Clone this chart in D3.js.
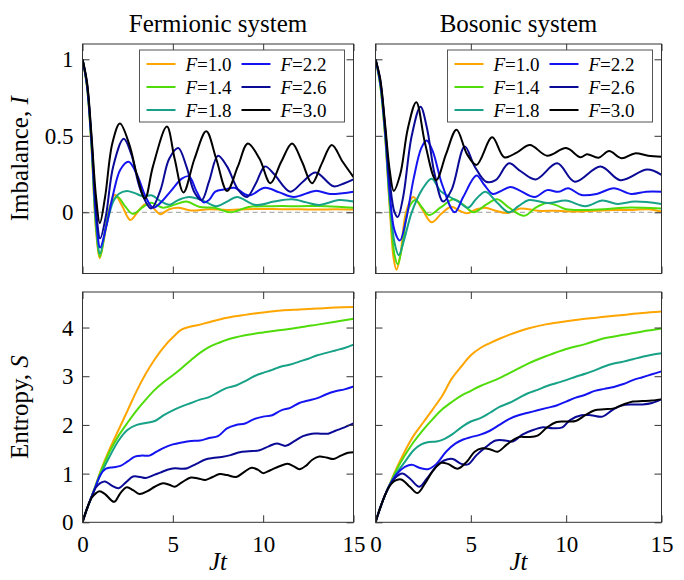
<!DOCTYPE html>
<html><head><meta charset="utf-8">
<script src="https://cdn.jsdelivr.net/npm/d3@7"></script>
<style>
body{margin:0;background:#fff}
svg{display:block}
text{font-family:"Liberation Serif","Times New Roman",serif;fill:#000}
</style>
</head><body>
<svg id="chart" width="684" height="580"></svg>
<script>
// ---------- data ----------
const fValues = ["1.0","1.4","1.8","2.2","2.6","3.0"];
const seriesColors = ["#ffa500","#4fdc0a","#17a187","#1414f0","#0a0a96","#000000"];
const xTicks = [0,5,10,15];
const imbTicks = [0,0.5,1];
const imbTickLabels = ["0","0.5","1"];
const entTicks = [0,1,2,3,4];
const entTickLabels = ["0","1","2","3","4"];
const panelTitles = ["Fermionic system","Bosonic system"];

// Fermionic imbalance  [Jt, I]
const fermiImb10 = [[0,1],[0.25,0.82],[0.5,0.42],[0.75,-0.12],[0.95,-0.3],[1.2,-0.17],[1.5,0.03],[1.8,0.115],[2.2,0.04],[2.65,-0.05],[3.1,0.01],[3.5,0.055],[3.9,0.03],[4.3,-0.012],[4.8,0.02],[5.3,0.03],[6.0,0.012],[7,0.02],[8,0.015],[9,0.02],[10,0.022],[11,0.02],[12,0.02],[13,0.018],[14,0.02],[15,0.018]];
const fermiImb14 = [[0,1],[0.25,0.82],[0.5,0.43],[0.75,-0.1],[0.97,-0.29],[1.25,-0.12],[1.6,0.06],[1.95,0.1],[2.35,0.04],[2.78,-0.01],[3.3,0.03],[3.8,0.063],[4.45,0.03],[5.1,0.05],[5.75,0.07],[6.5,0.035],[7.3,0.03],[8.2,0.0],[9.2,0.035],[10.5,0.04],[12,0.04],[13.5,0.04],[15,0.03]];
const fermiImb18 = [[0,1],[0.25,0.83],[0.5,0.45],[0.75,-0.07],[0.97,-0.27],[1.3,-0.1],[1.7,0.07],[2.0,0.12],[2.45,0.14],[2.9,0.125],[3.35,0.105],[3.85,0.11],[4.3,0.075],[4.8,0.05],[5.3,0.08],[5.9,0.1],[6.7,0.075],[7.4,0.04],[8.0,0.07],[8.55,0.1],[9.6,0.048],[10.6,0.07],[11.6,0.085],[12.4,0.065],[13.1,0.048],[14.2,0.08],[15,0.07]];
const fermiImb22 = [[0,1],[0.25,0.83],[0.5,0.46],[0.75,-0.03],[0.98,-0.23],[1.3,-0.1],[1.7,0.12],[2.1,0.28],[2.55,0.33],[3.0,0.25],[3.5,0.1],[3.9,0.03],[4.3,0.06],[4.9,0.14],[5.5,0.22],[5.9,0.235],[6.3,0.14],[6.7,0.065],[7.0,0.08],[7.35,0.135],[7.9,0.15],[8.4,0.16],[9.2,0.11],[10.1,0.16],[10.9,0.13],[11.7,0.1],[12.9,0.14],[13.7,0.12],[14.4,0.125],[15,0.135]];
const fermiImb26 = [[0,1],[0.25,0.84],[0.5,0.48],[0.75,0.02],[0.98,-0.17],[1.3,-0.02],[1.7,0.3],[2.28,0.48],[2.7,0.38],[3.2,0.15],[3.8,0.025],[4.3,0.14],[4.8,0.35],[5.3,0.42],[5.75,0.3],[6.2,0.13],[6.6,0.08],[7.0,0.2],[7.5,0.37],[8.0,0.3],[8.6,0.15],[9.1,0.1],[9.6,0.19],[10.1,0.3],[10.6,0.25],[11.5,0.135],[12.2,0.2],[12.9,0.26],[13.9,0.17],[14.5,0.19],[15,0.215]];
const fermiImb30 = [[0,1],[0.25,0.85],[0.5,0.5],[0.75,0.1],[0.96,-0.07],[1.25,0.1],[1.65,0.45],[2.07,0.58],[2.6,0.44],[3.0,0.25],[3.46,0.09],[3.9,0.3],[4.67,0.56],[5.1,0.35],[5.59,0.13],[6.2,0.35],[6.85,0.53],[7.4,0.35],[8.0,0.14],[8.6,0.3],[9.15,0.45],[9.8,0.35],[10.4,0.19],[11.0,0.33],[11.6,0.45],[12.15,0.33],[12.7,0.19],[13.25,0.32],[13.8,0.44],[14.4,0.33],[15,0.23]];

// Bosonic imbalance  [Jt, I]
const boseImb10 = [[0,1],[0.25,0.83],[0.5,0.5],[0.75,0.02],[0.95,-0.3],[1.1,-0.375],[1.3,-0.28],[1.6,0.0],[1.98,0.1],[2.45,0.02],[2.94,-0.065],[3.45,-0.01],[3.97,0.037],[4.4,0.01],[4.8,-0.007],[5.3,0.02],[5.77,0.03],[6.3,0.01],[6.9,-0.005],[7.6,0.025],[8.5,0.01],[9.5,0.01],[10.5,0.005],[11.5,0.01],[12.5,0.015],[13.5,0.015],[14.3,0.02],[15,0.005]];
const boseImb14 = [[0,1],[0.25,0.83],[0.5,0.51],[0.75,0.05],[1.0,-0.28],[1.17,-0.34],[1.4,-0.22],[1.75,0.03],[2.1,0.08],[2.45,0.03],[2.8,-0.018],[3.4,0.03],[4.1,0.085],[4.6,0.05],[5.15,0.0],[5.8,0.05],[6.38,0.085],[7.0,0.03],[7.8,-0.023],[8.4,0.03],[9.0,0.06],[9.5,0.045],[10,0.02],[11,0.015],[12,0.02],[13,0.03],[14,0.03],[15,0.025]];
const boseImb18 = [[0,1],[0.25,0.84],[0.5,0.52],[0.75,0.08],[1.0,-0.2],[1.22,-0.28],[1.5,-0.18],[1.9,0.0],[2.45,0.15],[2.95,0.22],[3.4,0.14],[3.9,0.1],[4.35,0.07],[4.85,0.03],[5.3,0.09],[5.77,0.135],[6.4,0.06],[7.0,0.0],[7.5,0.04],[8.05,0.08],[9.1,0.06],[9.98,0.077],[11.0,0.04],[11.9,0.077],[12.7,0.055],[13.6,0.07],[15,0.055]];
const boseImb22 = [[0,1],[0.25,0.85],[0.5,0.54],[0.75,0.12],[1.0,-0.12],[1.28,-0.185],[1.6,-0.05],[2.0,0.22],[2.4,0.42],[2.68,0.47],[3.0,0.4],[3.5,0.18],[4.15,0.0],[4.6,0.1],[5.3,0.24],[5.7,0.18],[6.15,0.12],[6.6,0.14],[7.08,0.166],[7.6,0.14],[8.35,0.1],[9.0,0.145],[9.6,0.134],[10.1,0.157],[10.8,0.113],[11.6,0.12],[12.5,0.157],[13.4,0.12],[14.2,0.135],[15,0.135]];
const boseImb26 = [[0,1],[0.25,0.86],[0.5,0.56],[0.75,0.2],[1.0,0.0],[1.17,-0.03],[1.45,0.1],[1.9,0.5],[2.36,0.69],[2.7,0.55],[3.1,0.25],[3.55,0.07],[4.0,0.15],[4.68,0.43],[5.2,0.3],[5.8,0.2],[6.3,0.21],[7.0,0.32],[7.6,0.27],[8.4,0.215],[9.53,0.32],[10.45,0.2],[11.8,0.3],[12.85,0.21],[14.25,0.28],[15,0.245]];
const boseImb30 = [[0,1],[0.25,0.87],[0.5,0.58],[0.75,0.27],[0.96,0.14],[1.3,0.25],[1.7,0.55],[2.14,0.72],[2.6,0.45],[3.18,0.21],[3.7,0.38],[4.25,0.54],[4.8,0.38],[5.3,0.31],[6.12,0.49],[6.75,0.36],[7.4,0.39],[8.1,0.44],[9.0,0.37],[10.0,0.42],[10.75,0.36],[11.1,0.38],[11.7,0.357],[12.25,0.40],[12.9,0.353],[13.6,0.385],[14.3,0.37],[15,0.363]];

// Fermionic entropy  [Jt, S]
const fermiEnt10 = [[0,0],[0.25,0.28],[0.5,0.52],[0.75,0.78],[1,1.05],[1.5,1.5],[2,1.9],[2.5,2.3],[3,2.7],[3.5,3.05],[4,3.35],[4.5,3.6],[5,3.8],[5.5,3.96],[6,4.02],[6.5,4.06],[7,4.11],[8,4.2],[9,4.26],[10,4.31],[11,4.35],[12,4.37],[13,4.39],[14,4.41],[15,4.42]];
const fermiEnt14 = [[0,0],[0.25,0.28],[0.5,0.52],[0.75,0.78],[1,1.03],[1.5,1.45],[2,1.78],[2.5,2.05],[3,2.3],[3.5,2.52],[4,2.72],[4.5,2.88],[5,3.02],[5.5,3.17],[6,3.33],[6.5,3.48],[7,3.6],[7.5,3.68],[8,3.75],[9,3.84],[10,3.9],[11,3.95],[12,4.0],[13,4.06],[14,4.12],[15,4.18]];
const fermiEnt18 = [[0,0],[0.25,0.28],[0.5,0.52],[0.75,0.76],[1,0.98],[1.5,1.35],[2,1.68],[2.5,1.9],[3,2.0],[3.5,2.04],[4,2.08],[4.5,2.2],[5,2.3],[5.5,2.38],[6,2.45],[6.5,2.52],[7,2.57],[7.5,2.67],[8,2.76],[8.5,2.81],[9,2.9],[9.5,3.0],[10,3.07],[10.5,3.13],[11,3.2],[11.5,3.24],[12,3.3],[12.5,3.36],[13,3.43],[13.5,3.48],[14,3.53],[14.5,3.58],[15,3.65]];
const fermiEnt22 = [[0,0],[0.25,0.28],[0.5,0.52],[0.75,0.76],[1,0.98],[1.3,1.1],[1.7,1.13],[2.1,1.16],[2.5,1.25],[2.9,1.35],[3.3,1.37],[3.7,1.37],[4.1,1.45],[4.5,1.53],[5,1.6],[5.5,1.64],[6,1.67],[6.5,1.68],[7,1.73],[7.5,1.77],[8,1.93],[8.5,2.0],[9,2.03],[9.5,2.12],[10,2.17],[10.5,2.2],[11,2.3],[11.5,2.35],[12,2.45],[12.5,2.5],[13,2.55],[13.5,2.63],[14,2.69],[14.5,2.73],[15,2.79]];
const fermiEnt26 = [[0,0],[0.25,0.28],[0.5,0.52],[0.75,0.72],[1.0,0.81],[1.25,0.84],[1.6,0.76],[2.0,0.7],[2.4,0.82],[2.8,0.94],[3.2,0.93],[3.5,0.91],[4.0,0.98],[4.3,1.02],[4.7,1.08],[5.1,1.11],[5.5,1.1],[5.8,1.11],[6.3,1.2],[6.8,1.29],[7.2,1.32],[7.7,1.34],[8.2,1.38],[8.7,1.44],[9.2,1.46],[9.8,1.48],[10.3,1.56],[10.75,1.62],[11.25,1.57],[11.7,1.66],[12.2,1.77],[12.7,1.82],[13.2,1.82],[13.6,1.82],[14.0,1.88],[14.5,1.95],[15,2.03]];
const fermiEnt30 = [[0,0],[0.25,0.28],[0.5,0.5],[0.75,0.6],[0.95,0.64],[1.25,0.58],[1.75,0.42],[2.1,0.6],[2.45,0.72],[2.8,0.66],[3.15,0.58],[3.6,0.64],[4.0,0.73],[4.45,0.8],[4.8,0.77],[5.1,0.73],[5.5,0.82],[6.0,0.92],[6.4,0.9],[6.8,0.87],[7.2,0.93],[7.6,0.99],[8.0,0.97],[8.5,0.93],[8.9,1.02],[9.35,1.12],[9.7,1.08],[10.0,1.01],[10.4,1.07],[10.9,1.15],[11.35,1.2],[11.7,1.15],[12.0,1.09],[12.4,1.17],[12.7,1.28],[13.1,1.35],[13.5,1.33],[13.9,1.3],[14.3,1.37],[14.7,1.43],[15,1.44]];

// Bosonic entropy  [Jt, S]
const boseEnt10 = [[0,0],[0.25,0.3],[0.5,0.56],[0.75,0.78],[1,1.02],[1.5,1.43],[2,1.78],[2.5,2.05],[3,2.32],[3.5,2.6],[4,2.95],[4.5,3.2],[5,3.43],[5.5,3.58],[6,3.68],[6.5,3.77],[7,3.85],[8,3.98],[9,4.07],[10,4.13],[11,4.18],[12,4.22],[13,4.26],[14,4.3],[15,4.33]];
const boseEnt14 = [[0,0],[0.25,0.3],[0.5,0.56],[0.75,0.78],[1,1.0],[1.5,1.35],[2,1.65],[2.5,1.9],[3,2.12],[3.5,2.32],[4,2.47],[4.5,2.6],[5,2.7],[5.5,2.8],[6,2.88],[6.5,2.96],[7,3.06],[7.5,3.16],[8,3.26],[9,3.42],[10,3.56],[11,3.66],[12,3.78],[13,3.85],[14,3.92],[15,3.98]];
const boseEnt18 = [[0,0],[0.25,0.3],[0.5,0.56],[0.75,0.77],[1,0.95],[1.5,1.22],[2,1.48],[2.4,1.6],[2.8,1.65],[3.2,1.66],[3.6,1.71],[4.0,1.8],[4.5,1.95],[5,2.07],[5.5,2.14],[6,2.25],[6.5,2.37],[7,2.45],[7.5,2.55],[8,2.65],[8.5,2.72],[9,2.8],[9.5,2.86],[10,2.92],[10.5,2.99],[11,3.05],[11.5,3.12],[12,3.2],[12.5,3.26],[13,3.3],[13.5,3.35],[14,3.4],[14.5,3.44],[15,3.47]];
const boseEnt22 = [[0,0],[0.25,0.3],[0.5,0.56],[0.75,0.77],[1,0.93],[1.4,1.1],[1.9,1.18],[2.3,1.12],[2.75,1.09],[3.2,1.2],[3.7,1.45],[4.2,1.62],[4.6,1.7],[5,1.75],[5.5,1.8],[6,1.88],[6.5,2.0],[7,2.12],[7.5,2.2],[8,2.25],[8.5,2.3],[9,2.35],[9.5,2.4],[10,2.48],[10.5,2.56],[11,2.62],[11.5,2.7],[12,2.74],[12.5,2.78],[13,2.84],[13.5,2.92],[14,2.98],[14.5,3.04],[15,3.1]];
const boseEnt26 = [[0,0],[0.25,0.3],[0.5,0.56],[0.75,0.76],[1,0.9],[1.4,1.0],[1.8,0.9],[2.3,0.73],[2.7,0.9],[3.2,1.15],[3.6,1.27],[4.05,1.3],[4.5,1.2],[4.85,1.19],[5.3,1.38],[5.8,1.55],[6.3,1.68],[6.8,1.68],[7.2,1.66],[7.7,1.8],[8.3,1.9],[8.8,1.95],[9.3,1.93],[9.8,1.95],[10.2,2.1],[10.8,2.2],[11.3,2.2],[11.9,2.17],[12.4,2.3],[12.9,2.4],[13.5,2.42],[14,2.42],[14.5,2.45],[15,2.53]];
const boseEnt30 = [[0,0],[0.25,0.3],[0.5,0.56],[0.75,0.75],[1,0.85],[1.35,0.88],[1.8,0.73],[2.2,0.6],[2.6,0.8],[3.0,1.05],[3.44,1.22],[3.8,1.2],[4.3,1.1],[4.8,1.25],[5.2,1.45],[5.6,1.52],[6.0,1.5],[6.4,1.45],[6.9,1.6],[7.5,1.75],[8.0,1.75],[8.5,1.78],[9.0,1.95],[9.5,2.06],[10,2.07],[10.5,2.08],[11,2.2],[11.5,2.3],[12,2.32],[12.5,2.34],[13,2.42],[13.5,2.48],[14,2.49],[14.5,2.5],[15,2.53]];

// ---------- drawing ----------
const svg = d3.select("#chart");
svg.append("rect").attr("width",684).attr("height",580).attr("fill","#fff");

const cols = [{x0:82.5,x1:353.5},{x0:375.5,x1:661.5}];
const rows = [{y0:44,y1:273.5,domain:[-0.4,1.1],ticks:imbTicks,labels:imbTickLabels},
              {y0:292,y1:522.3,domain:[0,4.73],ticks:entTicks,labels:entTickLabels}];
const panelData = [
  [[fermiImb10,fermiImb14,fermiImb18,fermiImb22,fermiImb26,fermiImb30],
   [boseImb10,boseImb14,boseImb18,boseImb22,boseImb26,boseImb30]],
  [[fermiEnt10,fermiEnt14,fermiEnt18,fermiEnt22,fermiEnt26,fermiEnt30],
   [boseEnt10,boseEnt14,boseEnt18,boseEnt22,boseEnt26,boseEnt30]]
];
const tickFont = 23;
let clipId = 0;

rows.forEach((row, ri) => {
  cols.forEach((col, ci) => {
    const x = d3.scaleLinear([0,15],[col.x0,col.x1]);
    const y = d3.scaleLinear(row.domain,[row.y1,row.y0]);
    const g = svg.append("g");
    const id = "clip"+(clipId++);
    svg.append("clipPath").attr("id",id).append("rect")
      .attr("x",col.x0).attr("y",row.y0).attr("width",col.x1-col.x0).attr("height",row.y1-row.y0);

    if (ri === 0) {
      g.append("line").attr("x1",col.x0).attr("x2",col.x1).attr("y1",y(0)).attr("y2",y(0))
        .attr("stroke","#b0b0b0").attr("stroke-width",1.2).attr("stroke-dasharray","5,3.5");
    }
    const line = d3.line().x(d=>x(d[0])).y(d=>y(d[1])).curve(d3.curveCatmullRom.alpha(0.5));
    const lg = g.append("g").attr("clip-path",`url(#${id})`);
    panelData[ri][ci].forEach((s,si) => {
      lg.append("path").datum(s).attr("d",line).attr("fill","none")
        .attr("stroke",seriesColors[si]).attr("stroke-width",2).attr("stroke-linejoin","round");
    });

    const showX = ri === 1, showY = ci === 0;
    const ax = g.append("g").attr("transform",`translate(0,${row.y1})`)
      .call(d3.axisBottom(x).tickValues(xTicks).tickSizeInner(-7).tickSizeOuter(0)
        .tickFormat(showX ? d3.format("d") : ""));
    const at = g.append("g").attr("transform",`translate(0,${row.y0})`)
      .call(d3.axisTop(x).tickValues(xTicks).tickSizeInner(-7).tickSizeOuter(0).tickFormat(""));
    const al = g.append("g").attr("transform",`translate(${col.x0},0)`)
      .call(d3.axisLeft(y).tickValues(row.ticks).tickSizeInner(-7).tickSizeOuter(0)
        .tickFormat((d,i)=> showY ? row.labels[i] : ""));
    const ar = g.append("g").attr("transform",`translate(${col.x1},0)`)
      .call(d3.axisRight(y).tickValues(row.ticks).tickSizeInner(-7).tickSizeOuter(0).tickFormat(""));
    [ax,at,al,ar].forEach(a => {
      a.attr("font-family",null);
      a.select(".domain").remove();
      a.selectAll(".tick line").attr("stroke","#333").attr("stroke-width",1);
      a.selectAll("text").style("font-family","'Liberation Serif', serif").attr("font-size",tickFont).attr("fill","#000");
    });
    ax.selectAll("text").attr("y",13).attr("dy","0.71em");
    al.selectAll("text").attr("x",-9).attr("dy","0.33em");

    g.append("rect").attr("x",col.x0).attr("y",row.y0).attr("width",col.x1-col.x0).attr("height",row.y1-row.y0)
      .attr("fill","none").attr("stroke","#333").attr("stroke-width",1);

    if (ri === 0) {
      const bx1 = col.x1 - 9, bx0 = bx1 - 205, by0 = 50, by1 = 122;
      const leg = g.append("g");
      leg.append("rect").attr("x",bx0).attr("y",by0).attr("width",bx1-bx0).attr("height",by1-by0)
        .attr("fill","#fff").attr("stroke","#555").attr("stroke-width",1);
      fValues.forEach((fv,i) => {
        const c = Math.floor(i/3), r = i%3;
        const lx = bx0 + 7 + c*95, ly = by0 + 14 + r*23;
        leg.append("line").attr("x1",lx).attr("x2",lx+29).attr("y1",ly).attr("y2",ly)
          .attr("stroke",seriesColors[i]).attr("stroke-width",2);
        const t = leg.append("text").attr("x",lx+39).attr("y",ly).attr("dy","0.35em").attr("font-size",19);
        t.append("tspan").attr("font-style","italic").text("F");
        t.append("tspan").text("="+fv);
      });
    }

    if (ri === 0) {
      svg.append("text").attr("x",(col.x0+col.x1)/2).attr("y",32).attr("text-anchor","middle")
        .attr("font-size",25).text(panelTitles[ci]);
    }
    if (ri === 1) {
      svg.append("text").attr("x",(col.x0+col.x1)/2).attr("y",570).attr("text-anchor","middle")
        .attr("font-size",25).attr("font-style","italic").text("Jt");
    }
    if (ci === 0) {
      const cy = (row.y0+row.y1)/2;
      const yl = svg.append("text").attr("transform",`translate(28,${cy}) rotate(-90)`)
        .attr("text-anchor","middle").attr("font-size",25);
      yl.append("tspan").text(ri===0 ? "Imbalance, " : "Entropy, ");
      yl.append("tspan").attr("font-style","italic").text(ri===0 ? "I" : "S");
    }
  });
});
</script>
</body></html>
